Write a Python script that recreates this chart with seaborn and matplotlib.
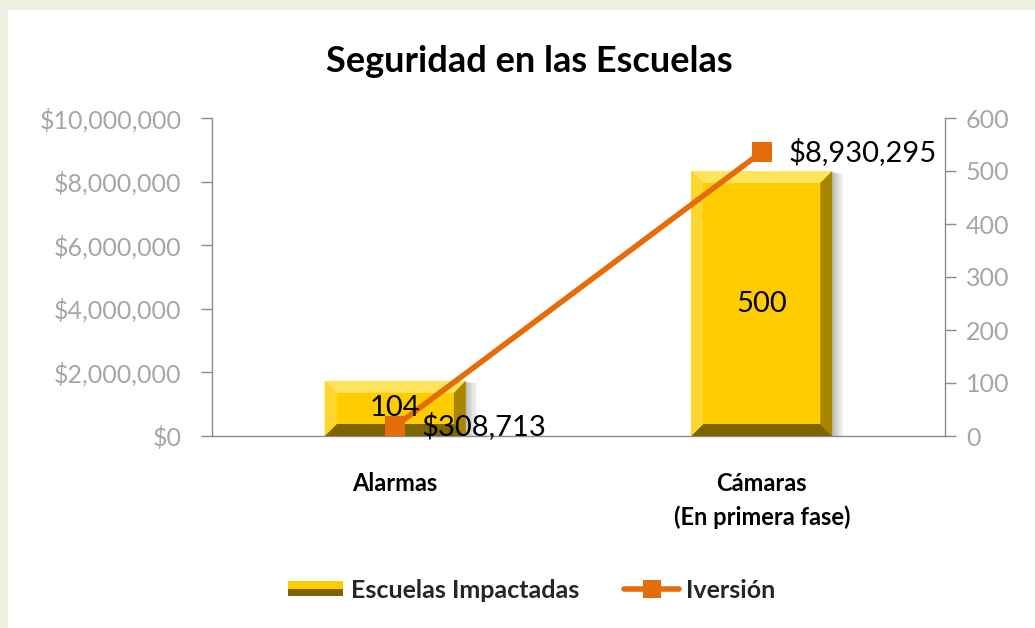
import matplotlib
matplotlib.use("Agg")
import matplotlib.pyplot as plt
import numpy as np
import seaborn as sns
from matplotlib.patches import Rectangle, Polygon
from matplotlib.lines import Line2D
from matplotlib.legend_handler import HandlerBase
from matplotlib.ticker import FuncFormatter, MultipleLocator, FixedLocator

# data
categories = ["Alarmas", "Cámaras\n(En primera fase)"]
schools = [104, 500]
investment = [308713, 8930295]
bar_name = "Escuelas Impactadas"
line_name = "Iversión"
title = "Seguridad en las Escuelas"

gold = "#FFCC00"
gold_light = "#FFE45C"
gold_left = "#FFD62E"
gold_right = "#A88600"
olive = "#7D6600"
orange = "#E46C0A"
tick_grey = "#A6A6A6"
spine_grey = "#8C8C8C"

sns.set_style("white")
plt.rcParams["font.family"] = ["Lato", "DejaVu Sans"]

W, H = 1035, 628
fig = plt.figure(figsize=(W / 100, H / 100), dpi=100)
fig.patch.set_facecolor("#EBF1DE")
fig.add_artist(Rectangle((8 / W, 0), 1, 1 - 10 / H, transform=fig.transFigure,
                         facecolor="white", edgecolor="none", zorder=-5))

# plot area in pixels: x 212..945, y 118..436
ax = fig.add_axes([212 / W, 1 - 436 / H, 733 / W, 318 / H])
ax.set_facecolor("none")

sns.barplot(x=categories, y=schools, ax=ax, color=gold, width=0.385,
            saturation=1, edgecolor="none", zorder=2)
ax.set_ylim(0, 600)
ax.set_xlim(-0.5, 1.5)

# bevel + soft shadow built from each bar's own geometry
ax_h_px = 318
ax_w_px = 733
y_per_px = 600 / ax_h_px
x_per_px = 2 / ax_w_px
bev = 12
for p in list(ax.patches):
    x0, w, h = p.get_x(), p.get_width(), p.get_height()
    dx, dy = bev * x_per_px, bev * y_per_px
    for k in range(1, 6):
        ax.add_patch(Rectangle((x0 + k * 2.2 * x_per_px, -k * 0.5 * y_per_px), w, h,
                               facecolor="black", alpha=0.05, edgecolor="none", zorder=1))
    shapes = [
        ([(x0, h), (x0 + w, h), (x0 + w - dx, h - dy), (x0 + dx, h - dy)], gold_light),
        ([(x0, 0), (x0 + w, 0), (x0 + w - dx, dy), (x0 + dx, dy)], olive),
        ([(x0, 0), (x0, h), (x0 + dx, h - dy), (x0 + dx, dy)], gold_left),
        ([(x0 + w, 0), (x0 + w, h), (x0 + w - dx, h - dy), (x0 + w - dx, dy)], gold_right),
    ]
    for pts, c in shapes:
        ax.add_patch(Polygon(pts, closed=True, facecolor=c, edgecolor="none", zorder=3))

ax.set_xticks(range(len(categories)))
ax.set_xticklabels(categories, fontsize=17, fontweight="bold", color="black",
                   linespacing=1.5)
ax.tick_params(axis="x", which="major", length=0, pad=26)
ax.xaxis.set_minor_locator(FixedLocator([-0.5, 0.5, 1.5]))
ax.tick_params(axis="x", which="minor", direction="out", length=7, width=1, color=spine_grey)
ax.set_xlabel("")
ax.set_ylabel("")
for s in ["left", "right", "bottom"]:
    ax.spines[s].set_color(spine_grey)
    ax.spines[s].set_linewidth(1)
ax.spines["top"].set_visible(False)

# investment line on the left axis
ax2 = ax.twinx()
sns.lineplot(x=np.arange(len(categories)), y=investment, ax=ax2, color=orange,
             linewidth=4, marker="s", markersize=15, markeredgewidth=0, zorder=4)
ax2.set_ylim(0, 10_000_000)
ax2.yaxis.tick_left()
ax2.yaxis.set_major_locator(MultipleLocator(2_000_000))
ax2.yaxis.set_major_formatter(FuncFormatter(lambda v, _: f"${v:,.0f}"))
ax2.tick_params(axis="y", direction="out", length=8, width=1, color=spine_grey,
                labelcolor=tick_grey, labelsize=18, pad=14)
ax2.set_ylabel("")
for s in ax2.spines.values():
    s.set_visible(False)
if ax2.get_legend():
    ax2.get_legend().remove()

# bar axis ticks on the right (after twinx, which resets them)
ax.yaxis.tick_right()
ax.yaxis.set_major_locator(MultipleLocator(100))
ax.tick_params(axis="y", which="major", direction="out", length=8, width=1,
               color=spine_grey, labelcolor=tick_grey, labelsize=18, pad=7)

# data labels
for i, v in enumerate(schools):
    ax2.text(i, v / 2, f"{v}", transform=ax.transData, ha="center", va="center",
             fontsize=21, color="black", zorder=6)
for i, v in enumerate(investment):
    ax2.annotate(f"${v:,}", (i, v), xytext=(19, 0), textcoords="offset points",
                 ha="left", va="center", fontsize=21, color="black", zorder=6)

fig.text(529 / W, 1 - 62 / H, title, ha="center", va="center",
         fontsize=26, fontweight="bold", color="black")


class BevelHandle(HandlerBase):
    def create_artists(self, legend, orig_handle, xdescent, ydescent, width, height,
                       fontsize, trans):
        lo = Rectangle((-xdescent, -ydescent), width, height * 0.5,
                       facecolor=olive, edgecolor="none", transform=trans)
        hi = Rectangle((-xdescent, -ydescent + height * 0.5), width, height * 0.5,
                       facecolor=gold, edgecolor="none", transform=trans)
        return [lo, hi]


bar_handle = Rectangle((0, 0), 1, 1, facecolor=gold)
line_handle = Line2D([], [], color=orange, linewidth=4, marker="s", markersize=13,
                     markeredgewidth=0)
fig.legend([bar_handle, line_handle], [bar_name, line_name],
           handler_map={Rectangle: BevelHandle()},
           loc="center", bbox_to_anchor=(532 / W, 1 - 590 / H), ncol=2, frameon=False,
           prop={"size": 18, "weight": "bold"}, handlelength=2.2, handletextpad=0.3,
           columnspacing=1.8, handleheight=0.55)

fig.savefig("out.png", dpi=100)
